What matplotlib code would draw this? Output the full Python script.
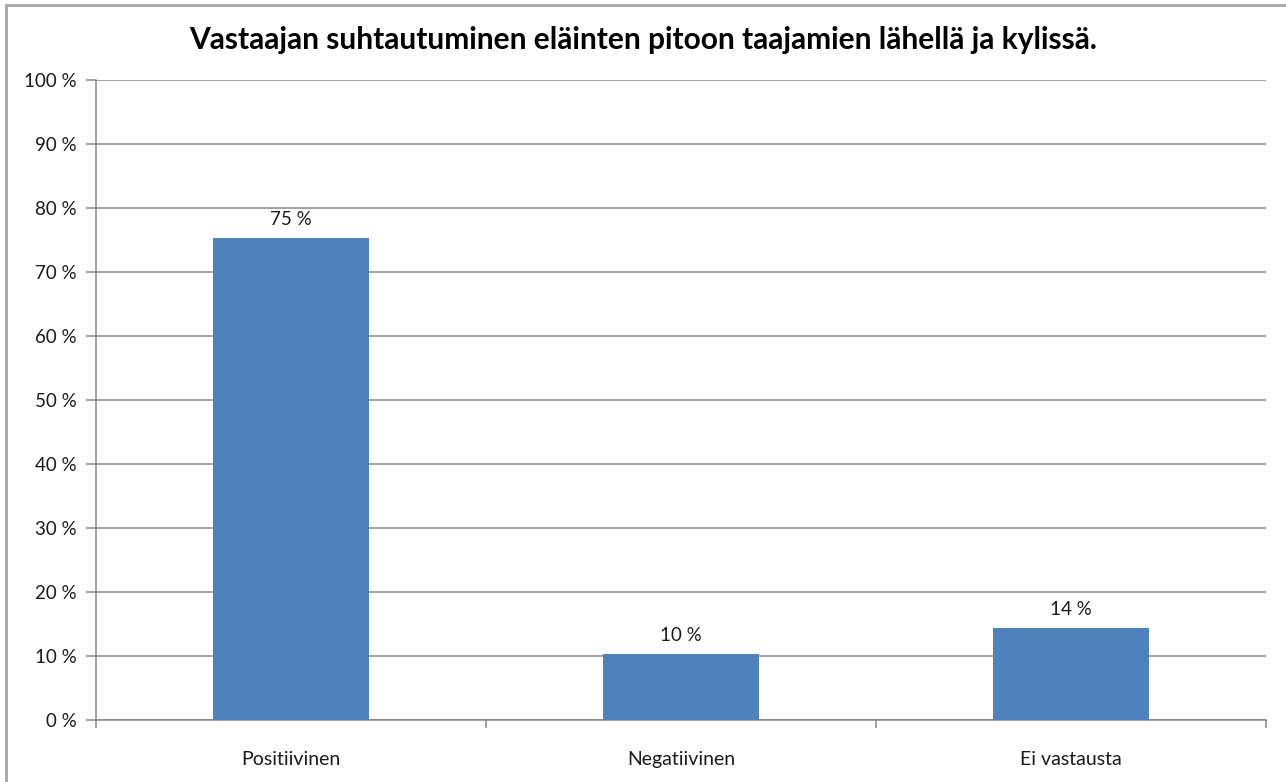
import matplotlib
matplotlib.use('Agg')
import matplotlib.pyplot as plt
from matplotlib.patches import Rectangle
from matplotlib.ticker import MultipleLocator, FuncFormatter

plt.rcParams['font.family'] = ['Lato', 'DejaVu Sans']

# survey answers, share of respondents (%)
categories = ['Positiivinen', 'Negatiivinen', 'Ei vastausta']
shares = [75.3, 10.3, 14.4]
title = 'Vastaajan suhtautuminen eläinten pitoon taajamien lähellä ja kylissä.'

fig = plt.figure(figsize=(12.86, 7.82), dpi=100)
ax = fig.add_axes([96/1286, 1 - 720/782, 1170/1286, 640/782])

# outer chart frame, its right and bottom edges run off the canvas
fig.patches.append(Rectangle((6/1286, -0.05), 1.1, 1 - 5/782 + 0.05,
                             transform=fig.transFigure, fill=False,
                             edgecolor='#A6A6A6', linewidth=2, clip_on=False))

x = range(len(categories))
bars = ax.bar(x, shares, width=0.4, color='#4F81BD', zorder=3)
for b, v in zip(bars, shares):
    ax.text(b.get_x() + b.get_width() / 2, v + 1.6, '%.0f %%' % v,
            ha='center', va='bottom', fontsize=13.5, color='#1a1a1a')

ax.set_xlim(-0.5, len(categories) - 0.5)
ax.set_ylim(0, 100)
ax.yaxis.set_major_locator(MultipleLocator(10))
ax.yaxis.set_major_formatter(FuncFormatter(lambda v, p: '%d %%' % v))
ax.grid(axis='y', color='#868686', linewidth=1.1, zorder=0)

# category separators below the axis
ax.set_xticks([i - 0.5 for i in range(len(categories) + 1)], minor=True)
ax.set_xticks(list(x))
ax.set_xticklabels(categories, fontsize=14, color='#1a1a1a')
ax.tick_params(axis='x', which='major', length=0, pad=22)
ax.tick_params(axis='x', which='minor', length=6, color='#868686', width=1.1)
ax.tick_params(axis='y', length=7, color='#868686', width=1.1, labelsize=13.5,
               labelcolor='#1a1a1a', pad=7)

for s in ['top', 'right']:
    ax.spines[s].set_visible(False)
ax.spines['left'].set_color('#868686')
ax.spines['bottom'].set_color('#868686')
ax.spines['left'].set_linewidth(1.1)
ax.spines['bottom'].set_linewidth(1.1)

fig.text(0.5, 1 - 40/782, title, ha='center', va='center',
         fontsize=21.5, fontweight='bold', color='black')

fig.savefig('out.png', dpi=100)
